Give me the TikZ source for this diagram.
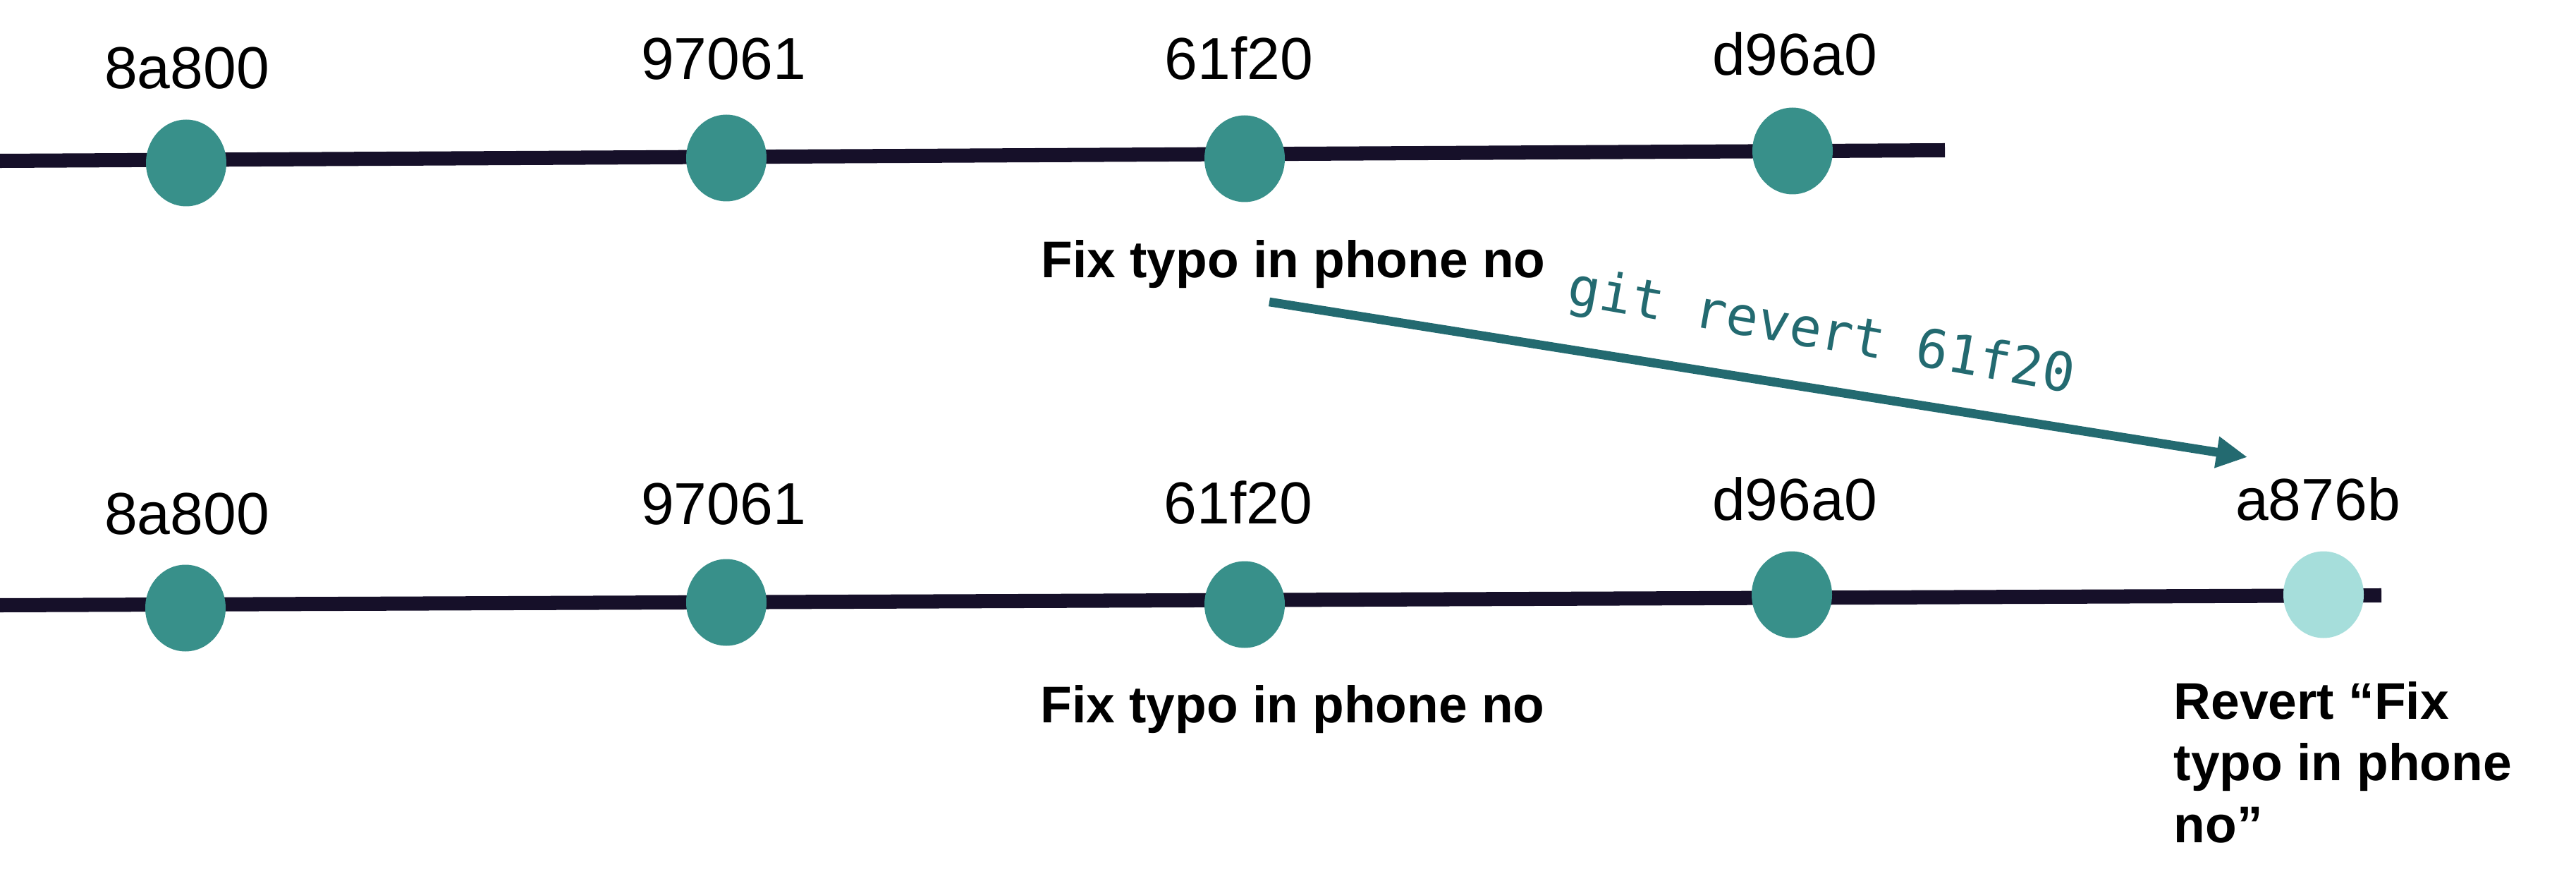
\documentclass[tikz,border=0pt]{standalone}
\usepackage{fontspec}
\setmainfont{Liberation Sans}
\newfontfamily\gitmono{DejaVu Sans Mono}
\usetikzlibrary{shapes.geometric,arrows.meta}
\definecolor{branchline}{HTML}{161029}
\definecolor{commitfill}{HTML}{38908A}
\definecolor{revertfill}{HTML}{A6DEDB}
\definecolor{cmdcolor}{HTML}{236A70}
\tikzset{
  branch/.style={line width=5.7pt, color=branchline},
  commit/.style={ellipse, fill=commitfill, minimum width=1.14cm, minimum height=1.23cm, inner sep=0pt},
  hash/.style={anchor=base, inner sep=0pt, font=\fontsize{23.9}{28}\selectfont},
  msg/.style={anchor=base, inner sep=0pt, font=\fontsize{20.8}{24.8}\selectfont\bfseries},
  revarrow/.style={line width=3.6pt, color=cmdcolor, -{Triangle[length=12.5pt,width=12pt]}},
}
\begin{document}
\begin{tikzpicture}
\useasboundingbox (0,0) rectangle (36.53,-12.56);

% before the revert
\coordinate (topstart) at (0,-2.28);
\coordinate (topend) at (27.58,-2.13);
\draw[branch] (topstart) -- (topend);
\node[commit] (top1) at (2.64,-2.31) {};
\node[commit] (top2) at (10.30,-2.24) {};
\node[commit] (top3) at (17.65,-2.25) {};
\node[commit] (top4) at (25.42,-2.14) {};
\node[hash] (tophash1) at (2.65,-1.26) {8a800};
\node[hash] (tophash2) at (10.26,-1.13) {97061};
\node[hash] (tophash3) at (17.57,-1.13) {61f20};
\node[hash] (tophash4) at (25.45,-1.07) {d96a0};
\node[msg] (topmsg) at (18.34,-3.94) {Fix typo in phone no};

% after the revert
\coordinate (botstart) at (0,-8.58);
\coordinate (botend) at (33.77,-8.44);
\draw[branch] (botstart) -- (botend);
\node[commit] (bot1) at (2.63,-8.62) {};
\node[commit] (bot2) at (10.30,-8.54) {};
\node[commit] (bot3) at (17.65,-8.57) {};
\node[commit] (bot4) at (25.41,-8.43) {};
\node[commit, fill=revertfill] (bot5) at (32.95,-8.43) {};
\node[hash] (bothash1) at (2.65,-7.57) {8a800};
\node[hash] (bothash2) at (10.26,-7.43) {97061};
\node[hash] (bothash3) at (17.56,-7.42) {61f20};
\node[hash] (bothash4) at (25.45,-7.37) {d96a0};
\node[hash] (bothash5) at (32.87,-7.37) {a876b};
\node[msg] (botmsg) at (18.33,-10.24) {Fix typo in phone no};
\node[msg, anchor=base west, align=left] (revmsg) at (30.82,-11.94) {Revert “Fix\\typo in phone\\no”};

% the command
\coordinate (revfrom) at (18.00,-4.28);
\coordinate (revto) at (31.87,-6.48);
\draw[revarrow] (revfrom) -- (revto);
\node[anchor=base, inner sep=0pt, rotate=-10, text=cmdcolor, font=\gitmono\fontsize{21.5}{26}\selectfont] (gitcmd) at (25.79,-4.94) {git revert 61f20};
\end{tikzpicture}
\end{document}
